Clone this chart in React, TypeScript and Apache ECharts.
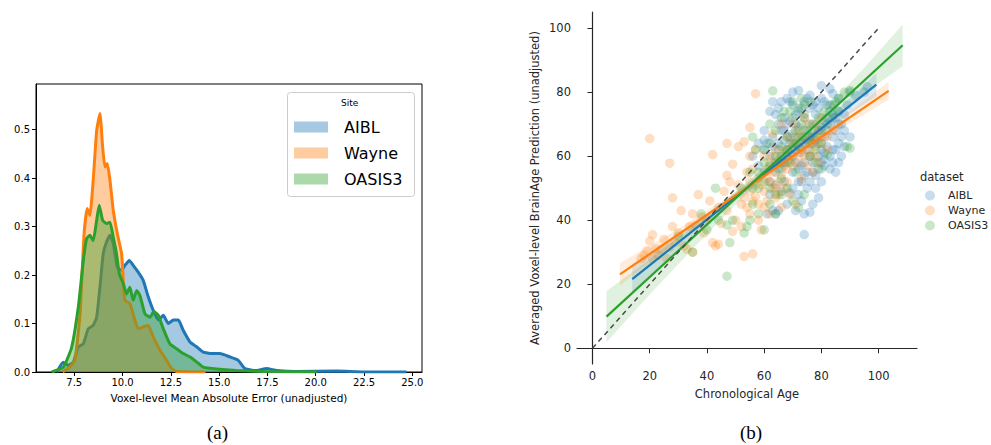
import React, { useEffect, useRef } from "react";
import * as echarts from "echarts";

const SITES = ["AIBL", "Wayne", "OASIS3"];
const COLORS = ["#1f77b4", "#ff7f0e", "#2ca02c"];
const PATCH_COLORS = ["rgba(31,119,180,0.4)", "rgba(255,127,14,0.4)", "rgba(44,160,44,0.4)"];
const DOT_COLORS = ["rgba(31,119,180,0.25)", "rgba(255,127,14,0.25)", "rgba(44,160,44,0.25)"];

const MAE_TICKS = [7.5, 10, 12.5, 15, 17.5, 20, 22.5, 25];
const DENSITY_TICKS = [0, 0.1, 0.2, 0.3, 0.4, 0.5];
const AGE_TICKS = [0, 20, 40, 60, 80, 100];
const PRED_TICKS = [0, 20, 40, 60, 80, 100];

const AIBL_KDE = [[6.6,0],[6.93,0.02],[7.19,0.014],[7.45,0.02],[7.71,0.052],[7.97,0.058],[8.22,0.089],[8.48,0.096],[8.66,0.113],[8.83,0.175],[9.0,0.244],[9.17,0.268],[9.35,0.282],[9.52,0.265],[9.73,0.216],[9.95,0.21],[10.12,0.22],[10.35,0.23],[10.55,0.22],[10.81,0.206],[11.07,0.189],[11.33,0.155],[11.59,0.127],[11.85,0.107],[12.11,0.117],[12.37,0.1],[12.63,0.107],[12.89,0.107],[13.14,0.086],[13.49,0.062],[13.83,0.052],[14.18,0.041],[14.61,0.038],[15.04,0.038],[15.56,0.031],[15.99,0.024],[16.34,0.007],[16.94,0.003],[17.46,0.007],[17.98,0.003],[19.0,0.001],[21.08,0.002],[22.5,0],[24.7,0]];
const WAYNE_KDE = [[6.9,0],[7.2,0.008],[7.53,0.024],[7.8,0.12],[8.0,0.28],[8.17,0.337],[8.31,0.323],[8.48,0.395],[8.66,0.498],[8.83,0.533],[8.97,0.464],[9.09,0.423],[9.21,0.43],[9.35,0.395],[9.52,0.333],[9.73,0.285],[9.95,0.244],[10.04,0.189],[10.12,0.148],[10.38,0.141],[10.64,0.107],[10.81,0.089],[11.07,0.093],[11.33,0.096],[11.59,0.072],[11.94,0.045],[12.28,0.024],[12.54,0.007],[12.8,0.001],[14.3,0]];
const OASIS_KDE = [[6.33,0],[6.93,0.01],[7.36,0.05],[7.71,0.134],[7.97,0.23],[8.14,0.275],[8.31,0.282],[8.48,0.271],[8.66,0.313],[8.79,0.344],[8.97,0.313],[9.17,0.306],[9.35,0.309],[9.52,0.278],[9.69,0.244],[9.83,0.203],[10.04,0.182],[10.21,0.161],[10.38,0.175],[10.55,0.148],[10.73,0.168],[10.9,0.158],[11.16,0.12],[11.42,0.113],[11.62,0.125],[11.85,0.117],[12.11,0.089],[12.45,0.058],[12.8,0.048],[13.14,0.038],[13.49,0.031],[13.83,0.021],[14.18,0.01],[14.87,0.006],[15.9,0.003],[17.29,0.001],[20.05,0]];

const AIBL_PTS = [[61,42],[63,43],[64,42],[65,43],[66,49],[64,51],[67,52],[69,48.5],[70,50],[71,43],[72,48],[73,46],[74,42],[76,42.5],[74,35.5],[78,50],[80,52],[81,57],[83,56],[85,55],[86,58],[84,58],[87,60],[79,60],[82,63],[84,62],[76,60],[77,55],[72,56],[74,58],[70,60],[68,62],[66,60],[64,58],[62,60],[60,62],[63,66],[65,70],[67,68],[69,66],[71,64],[73,66],[75,68],[77,70],[79,68],[81,66],[83,70],[85,68],[87,70],[84,73],[82,76],[80,78],[78,77],[76,75],[74,72],[72,74],[70,76],[68,78],[66,77],[63,77],[62,74],[64,73],[60,68],[58,64],[70,80],[72,80.5],[83,81],[84,79.5],[86,78],[88,73],[90,80],[92,79],[95,80],[96,81.7],[88,63],[90,66],[66,56],[62,52],[60,55],[75,62],[77,64],[80,62],[82,68],[86,64],[84,66],[78,73],[74,77],[69,71],[71,70],[65,64],[67,58],[73,52],[75,50],[79,47],[77,45],[68,45],[62,48],[58,57],[56,60],[80,82],[76,79],[89,76],[81,71],[73,61],[71,58],[60,65],[65,75],[67,72],[69,77],[71,73],[73,75],[75,78],[77,76],[79,75],[81,77],[83,74],[85,72],[86,70],[88,68],[87,66],[85,62],[83,60],[81,59],[79,56],[77,58],[75,55],[73,57],[71,62],[69,64],[67,65],[65,62],[63,63],[61,64],[66,68],[68,70],[70,67],[72,69],[74,64],[76,66],[78,65],[80,69],[82,72],[84,76],[86,74],[70,55],[72,52],[74,54],[76,52],[78,54],[80,58],[68,58],[64,55],[79,64],[81,61]];
const WAYNE_PTS = [[17,28],[18,29],[19,30.5],[20,33.5],[20,65.5],[21,35.5],[21,28],[22,31],[23,29],[24,31],[25,34],[26,28],[27,57.8],[27,31.5],[28,47],[28,38],[29,33],[30,36],[31,43],[32,32],[33,31],[34,38],[35,42],[35,30],[36,38.5],[37,48],[38,41],[39,36],[40,40],[41,46],[42,33],[42,60.5],[43,32],[44,32.5],[44,44],[45,39],[46,49],[47,43],[47,54],[47,64],[48,52],[49,57.5],[49,36.5],[50,40],[51,51],[51,63],[52,45],[52,38],[53,47],[53,28.7],[53,64.5],[54,44],[54,55],[55,49],[55,42],[55,60],[55,69],[56,46],[56,29.5],[56,56],[57,47.5],[57,62],[57,79.5],[58,40],[58,53],[59,37],[60,44],[60,49],[61,56],[62,42],[62,52],[63,60],[63,67],[64,50],[64,47],[65,58],[66,54],[66,44],[66,70],[67,62],[68,52],[68,66],[69,48],[69,59],[70,57],[70,64],[70,70],[71,45],[72,61],[72,68],[73,53],[73,62],[74,66],[74,72],[75,57],[76,65],[76,60],[77,55],[78,63],[78,70],[79,58],[80,66],[80,72],[82,62],[84,68],[62,58],[64,62],[66,60],[68,56],[70,60],[72,58],[74,60],[76,62],[78,60],[80,64],[71,66],[73,64],[69,62],[67,57],[65,52],[63,55],[61,53],[59,51],[57,51],[55,52],[75,70],[77,66],[79,68],[82,66],[60,60],[58,45],[61,46],[63,50],[65,48],[67,50]];
const OASIS_PTS = [[30,35],[35,30],[38,42],[40,37],[43,50],[44,40],[47,22.5],[47,38.5],[48,33],[49,40],[52,50],[53,36],[54,38],[55,40],[55,55],[56,50],[56,66],[57,62],[58,42],[58,55],[60,37],[60,58],[60,62],[62,45],[62,57],[62,64],[62,70],[63,80.4],[64,42],[64,68],[65,56],[66,48],[66,63],[66,72],[67,74],[68,50],[68,66],[69,58],[69,74],[70,46],[70,77],[71,55],[71,68],[72,44],[72,63],[73,70],[73,78],[74,48],[74,76],[75,65],[76,60],[76,77],[77,67],[78,58],[79,72],[80,56],[81,74],[82,60.5],[83,76],[85,77],[86,78],[88,80],[89,63],[90,62.5],[90,80.5],[60,52],[62,50],[64,60],[66,58],[68,62],[70,64],[72,66],[74,68],[76,70],[78,66],[80,68],[82,70],[84,72],[70,72],[72,75],[74,73],[68,60],[66,53],[64,48],[76,64],[78,62],[80,64],[86,74],[58,50],[56,45]];

const AIBL_FIT = [[13.9,21.6],[99.2,82.3]];
const WAYNE_FIT = [[9.6,23.1],[103.5,80.4]];
const OASIS_FIT = [[4.9,9.9],[108.4,94.6]];
const IDENTITY = [[0,0],[100,100]];

const AIBL_BAND = [[13.9,17.1,26.1],[30,30.6,35.5],[50,46.0,48.6],[70,60.5,62.5],[85,70.4,74.0],[99.2,78.7,85.9]];
const WAYNE_BAND = [[9.6,19.6,26.6],[30,33.8,37.3],[50,46.8,48.8],[70,59.0,61.0],[85,67.6,70.6],[103.5,77.6,83.2]];
const OASIS_BAND = [[4.9,1.9,17.9],[20,16.8,27.8],[35,31.0,38.0],[50,44.8,48.8],[65,57.6,60.6],[80,69.4,73.4],[95,79.6,87.6],[108.4,88.1,101.1]];

const KDES = [AIBL_KDE, WAYNE_KDE, OASIS_KDE];
const PTS = [AIBL_PTS, WAYNE_PTS, OASIS_PTS];
const FITS = [AIBL_FIT, WAYNE_FIT, OASIS_FIT];
const BANDS = [AIBL_BAND, WAYNE_BAND, OASIS_BAND];

function bandSeries(band: number[][], color: string) {
  return {
    type: "custom",
    xAxisIndex: 1,
    yAxisIndex: 1,
    silent: true,
    data: band,
    encode: { x: 0, y: [1, 2] },
    z: 3,
    renderItem: (params: any, api: any) => {
      if (params.dataIndex !== 0) return { type: "group", children: [] };
      const upper = band.map((r) => api.coord([r[0], r[2]]));
      const lower = band.map((r) => api.coord([r[0], r[1]])).reverse();
      return {
        type: "polygon",
        shape: { points: upper.concat(lower) },
        style: { fill: color, opacity: 0.15 },
      };
    },
  };
}

export default function App() {
  const ref = useRef<HTMLDivElement>(null);
  useEffect(() => {
    if (!ref.current) return;
    const chart = echarts.init(ref.current, null, { renderer: "svg" });
    const dark = "#262626";
    const series: any[] = [];
    SITES.forEach((name, i) => {
      series.push({
        name,
        type: "line",
        xAxisIndex: 0,
        yAxisIndex: 0,
        data: KDES[i],
        showSymbol: false,
        smooth: 0.15,
        lineStyle: { color: COLORS[i], width: 3 },
        itemStyle: { color: COLORS[i] },
        areaStyle: { color: COLORS[i], opacity: 0.4 },
        z: 2 + i,
      });
    });
    SITES.forEach((name, i) => {
      series.push({
        name,
        type: "scatter",
        xAxisIndex: 1,
        yAxisIndex: 1,
        data: PTS[i],
        symbolSize: 9.5,
        itemStyle: { color: COLORS[i], opacity: 0.25 },
        z: 2,
      });
    });
    SITES.forEach((_, i) => series.push(bandSeries(BANDS[i], COLORS[i])));
    SITES.forEach((name, i) => {
      series.push({
        name: name + " fit",
        type: "line",
        xAxisIndex: 1,
        yAxisIndex: 1,
        data: FITS[i],
        showSymbol: false,
        lineStyle: { color: COLORS[i], width: 2.2 },
        z: 5,
      });
    });
    series.push({
      name: "identity",
      type: "line",
      xAxisIndex: 1,
      yAxisIndex: 1,
      data: IDENTITY,
      showSymbol: false,
      lineStyle: { color: "#4a4a4a", width: 1.5, type: [5, 4] },
      z: 6,
    });

    const option: any = {
      animation: false,
      textStyle: { fontFamily: "DejaVu Sans" },
      grid: [
        { left: 36, top: 84, width: 386, height: 288, show: true, borderColor: "#000", borderWidth: 1, backgroundColor: "transparent" },
        { left: 577, top: 12, width: 340, height: 352 },
      ],
      xAxis: [
        {
          type: "value", gridIndex: 0, min: 5.52, max: 25.5,
          name: "Voxel-level Mean Absolute Error (unadjusted)", nameLocation: "middle", nameGap: 20,
          nameTextStyle: { fontSize: 10.5, color: "#000" },
          axisLine: { show: true, lineStyle: { color: "#000", width: 1 } },
          axisTick: { show: true, customValues: MAE_TICKS, length: 4, lineStyle: { color: "#000" } },
          axisLabel: { customValues: MAE_TICKS, formatter: (v: number) => v.toFixed(1), fontSize: 10, color: "#000", margin: 5 },
          splitLine: { show: false },
        },
        {
          type: "value", gridIndex: 1, min: -5.4, max: 113.4,
          name: "Chronological Age", nameLocation: "middle", nameGap: 24,
          nameTextStyle: { fontSize: 11.5, color: dark },
          axisLine: { show: true, lineStyle: { color: dark, width: 1.2 } },
          axisTick: { show: true, customValues: AGE_TICKS, length: 5, lineStyle: { color: dark } },
          axisLabel: { customValues: AGE_TICKS, fontSize: 11.5, color: dark, margin: 6 },
          splitLine: { show: false },
        },
      ],
      yAxis: [
        {
          type: "value", gridIndex: 0, min: 0, max: 0.594,
          axisLine: { show: true, lineStyle: { color: "#000", width: 1 } },
          axisTick: { show: true, customValues: DENSITY_TICKS, length: 4, lineStyle: { color: "#000" } },
          axisLabel: { customValues: DENSITY_TICKS, formatter: (v: number) => v.toFixed(1), fontSize: 10, color: "#000", margin: 6 },
          splitLine: { show: false },
        },
        {
          type: "value", gridIndex: 1, min: -4.9, max: 105,
          name: "Averaged Voxel-level BrainAge Prediction (unadjusted)", nameLocation: "middle", nameGap: 36,
          nameTextStyle: { fontSize: 11.5, color: dark },
          axisLine: { show: true, lineStyle: { color: dark, width: 1.2 } },
          axisTick: { show: true, customValues: PRED_TICKS, length: 5, lineStyle: { color: dark } },
          axisLabel: { customValues: PRED_TICKS, fontSize: 11.5, color: dark, margin: 6 },
          splitLine: { show: false },
        },
      ],
      legend: [
        {
          orient: "vertical", left: 294, top: 119, padding: 0, itemGap: 10, z: 20,
          itemWidth: 34, itemHeight: 11, selectedMode: false,
          textStyle: { fontSize: 16, color: "#000", padding: [0, 0, 0, 11] },
          data: SITES.map((s, i) => ({ name: s, icon: "rect", itemStyle: { color: PATCH_COLORS[i], borderWidth: 0, opacity: 1 } })),
        },
        {
          orient: "vertical", left: 925, top: 190, padding: 0, itemGap: 4, z: 20,
          itemWidth: 10, itemHeight: 10, selectedMode: false,
          textStyle: { fontSize: 11, color: dark, padding: [0, 0, 0, 8] },
          data: SITES.map((s, i) => ({ name: s, icon: "circle", itemStyle: { color: DOT_COLORS[i], borderWidth: 0, opacity: 1 } })),
        },
      ],
      graphic: [
        { type: "rect", left: 287, top: 92, shape: { width: 127, height: 104, r: 3 }, style: { fill: "rgba(255,255,255,0.8)", stroke: "#cccccc", lineWidth: 1 }, z: 10 },
        { type: "text", left: 341, top: 98, style: { text: "Site", fontSize: 9, fill: "#000", fontFamily: "DejaVu Sans" }, z: 11 },
        { type: "text", left: 920, top: 171, style: { text: "dataset", fontSize: 11.5, fill: dark, fontFamily: "DejaVu Sans" }, z: 11 },
        { type: "text", left: 207, top: 423, style: { text: "(a)", fontSize: 19, fill: "#000", fontFamily: "Liberation Serif" } },
        { type: "text", left: 740, top: 423, style: { text: "(b)", fontSize: 19, fill: "#000", fontFamily: "Liberation Serif" } },
      ],
      series,
    };
    chart.setOption(option);
    return () => chart.dispose();
  }, []);
  return <div ref={ref} style={{ position: "fixed", left: 0, top: 0, width: 991, height: 445, background: "#fff" }} />;
}
